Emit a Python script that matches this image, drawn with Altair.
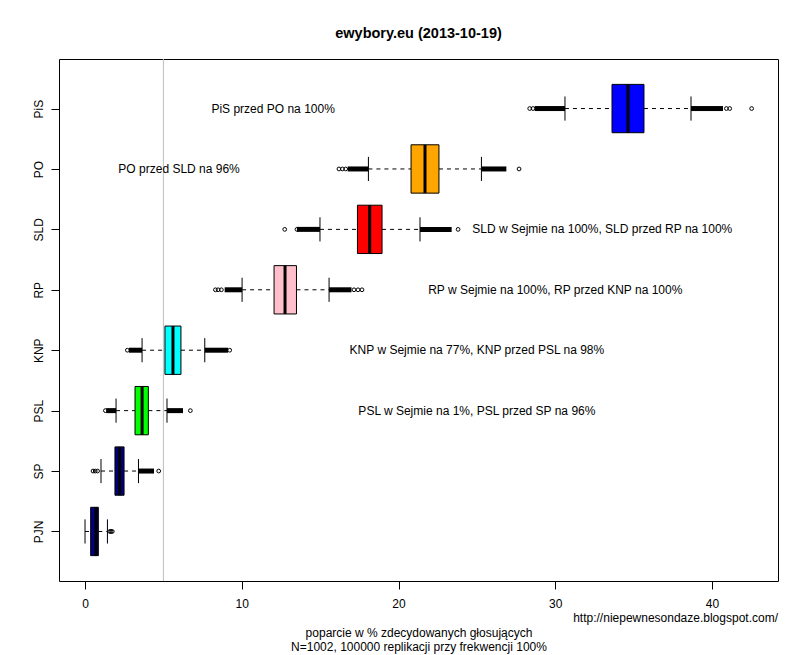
import altair as alt
import pandas as pd

FONT = "Liberation Sans"

title_text = "ewybory.eu (2013-10-19)"
xlab = ["poparcie w % zdecydowanych głosujących",
        "N=1002, 100000 replikacji przy frekwencji 100%"]
url_text = "http://niepewnesondaze.blogspot.com/"

parties = ["PiS", "PO", "SLD", "RP", "KNP", "PSL", "SP", "PJN"]
colors = ["#0000FF", "#FFA500", "#FF0000", "#FFC0CB", "#00FFFF", "#00FF00", "#000080", "#000080"]

wlo = [30.62, 18.08, 14.99, 10.02, 3.64, 1.98, 1.02, 0.00]
q1 = [33.62, 20.80, 17.38, 12.06, 5.10, 3.19, 1.91, 0.36]
med = [34.64, 21.69, 18.16, 12.76, 5.61, 3.64, 2.21, 0.70]
q3 = [35.66, 22.58, 18.95, 13.49, 6.12, 4.04, 2.49, 0.85]
whi = [38.66, 25.29, 21.37, 15.57, 7.64, 5.23, 3.41, 1.43]

# dense outlier runs (many overlapping circles)
dense_party = ["PiS", "PiS", "PO", "PO", "SLD", "SLD", "RP", "RP", "KNP", "KNP", "PSL", "PSL", "SP"]
dense_from = [28.69, 38.66, 16.76, 25.29, 13.52, 21.37, 8.91, 15.57, 2.80, 7.64, 1.35, 5.23, 3.41]
dense_to = [30.62, 40.70, 18.08, 26.88, 14.99, 23.39, 10.02, 17.00, 3.64, 9.12, 1.98, 6.25, 4.40]

# sparse outliers (single circles)
out_party = ["PiS"] * 5 + ["PO"] * 4 + ["SLD"] * 3 + ["RP"] * 6 + ["KNP"] * 2 + ["PSL"] * 2 + ["SP"] * 4 + ["PJN"] * 3
out_value = [28.37, 28.58, 40.92, 41.13, 42.53,
             16.20, 16.42, 16.63, 27.69,
             12.74, 13.52, 23.80,
             8.32, 8.49, 8.70, 17.16, 17.42, 17.67,
             2.70, 9.23,
             1.30, 6.72,
             0.51, 0.65, 0.80, 4.70,
             1.58, 1.66, 1.74]

note_party = ["PiS", "PO", "SLD", "RP", "KNP", "PSL"]
note_x = [12, 6, 33, 30, 25, 25]
note_text = ["PiS przed PO na 100%",
             "PO przed SLD na 96%",
             "SLD w Sejmie na 100%, SLD przed RP na 100%",
             "RP w Sejmie na 100%, RP przed KNP na 100%",
             "KNP w Sejmie na 77%, KNP przed PSL na 98%",
             "PSL w Sejmie na 1%, PSL przed SP na 96%"]

threshold = [5]
x_ticks = [0, 10, 20, 30, 40]

n = len(parties)
pos_of = {p: n - i for i, p in enumerate(parties)}

box = pd.DataFrame({"party": parties, "pos": [pos_of[p] for p in parties], "color": colors,
                    "wlo": wlo, "q1": q1, "med": med, "q3": q3, "whi": whi})
dense = pd.DataFrame({"party": dense_party, "pos": [pos_of[p] for p in dense_party],
                      "a": dense_from, "b": dense_to})
outs = pd.DataFrame({"party": out_party, "pos": [pos_of[p] for p in out_party], "v": out_value})
notes = pd.DataFrame({"pos": [pos_of[p] for p in note_party], "x": note_x, "t": note_text})
thr = pd.DataFrame({"t": threshold})
url = pd.DataFrame({"t": [url_text]})

xs = alt.Scale(domain=[-1.66, 44.21], nice=False, zero=False)
ys = alt.Scale(domain=[0.18, 8.82], nice=False, zero=False)

label_expr = "[" + ",".join(["''"] + ["'%s'" % p for p in reversed(parties)]) + "][datum.value]"

x_axis = alt.Axis(values=x_ticks, format="d", grid=False, domain=False, tickSize=8,
                  tickColor="black", labelColor="black", labelFont=FONT, labelFontSize=12,
                  labelPadding=9, title=xlab, titleFont=FONT, titleFontSize=12,
                  titleFontWeight="normal", titleColor="black", titleBaseline="alphabetic",
                  titleY=55, titleLineHeight=14.4, titleAnchor="middle")
y_axis = alt.Axis(values=list(range(1, n + 1)), labelExpr=label_expr, grid=False, domain=False,
                  tickSize=8, tickColor="black", labelColor="black", labelFont=FONT,
                  labelFontSize=12, labelAngle=270, labelAlign="center",
                  labelBaseline="alphabetic", labelPadding=8.5, title="")

base = alt.Chart(box).transform_calculate(
    ylo="datum.pos - 0.4", yhi="datum.pos + 0.4",
    slo="datum.pos - 0.2", shi="datum.pos + 0.2")

dash = dict(color="black", strokeWidth=1, strokeDash=[4, 4])
wl = base.mark_rule(**dash).encode(
    x=alt.X("wlo:Q", scale=xs, axis=x_axis), x2="q1:Q",
    y=alt.Y("pos:Q", scale=ys, axis=y_axis))
wh = base.mark_rule(**dash).encode(
    x=alt.X("q3:Q", scale=xs), x2="whi:Q",
    y=alt.Y("pos:Q", scale=ys))
sl = base.mark_rule(color="black", strokeWidth=1).encode(
    x=alt.X("wlo:Q", scale=xs),
    y=alt.Y("slo:Q", scale=ys), y2="shi:Q")
sh = base.mark_rule(color="black", strokeWidth=1).encode(
    x=alt.X("whi:Q", scale=xs),
    y=alt.Y("slo:Q", scale=ys), y2="shi:Q")
rect = base.mark_rect(stroke="black", strokeWidth=1).encode(
    x=alt.X("q1:Q", scale=xs), x2="q3:Q",
    y=alt.Y("ylo:Q", scale=ys), y2="yhi:Q",
    fill=alt.Fill("color:N", scale=None))
medl = base.mark_rule(color="black", strokeWidth=3).encode(
    x=alt.X("med:Q", scale=xs),
    y=alt.Y("ylo:Q", scale=ys), y2="yhi:Q")

dl = alt.Chart(dense).mark_rule(color="black", strokeWidth=5).encode(
    x=alt.X("a:Q", scale=xs), x2="b:Q",
    y=alt.Y("pos:Q", scale=ys))
ol = alt.Chart(outs).mark_point(shape="circle", filled=False, size=14, color="black",
                                strokeWidth=1, opacity=1).encode(
    x=alt.X("v:Q", scale=xs),
    y=alt.Y("pos:Q", scale=ys))

tl = alt.Chart(thr).mark_rule(color="#BEBEBE", strokeWidth=1).encode(
    x=alt.X("t:Q", scale=xs))

nl = alt.Chart(notes).mark_text(font=FONT, fontSize=12, color="black", align="center",
                                baseline="middle").encode(
    x=alt.X("x:Q", scale=xs),
    y=alt.Y("pos:Q", scale=ys), text="t:N")

ul = alt.Chart(url).mark_text(font=FONT, fontSize=12, color="black", align="right",
                              baseline="alphabetic").encode(
    x=alt.value(719), y=alt.value(562.5), text="t:N")

chart = alt.layer(wl, wh, sl, sh, rect, medl, dl, ol, tl, nl, ul).properties(
    width=719, height=522,
    title=alt.TitleParams(title_text, font=FONT, fontSize=14.5, fontWeight="bold",
                          color="black", anchor="middle", baseline="alphabetic", offset=6.5),
    autosize=alt.AutoSizeParams(type="none"),
    padding={"left": 51, "top": 51, "right": 6, "bottom": 73},
).configure_view(stroke="black", strokeWidth=1)

chart.save("out.html", embed_options={"renderer": "svg", "actions": False})
